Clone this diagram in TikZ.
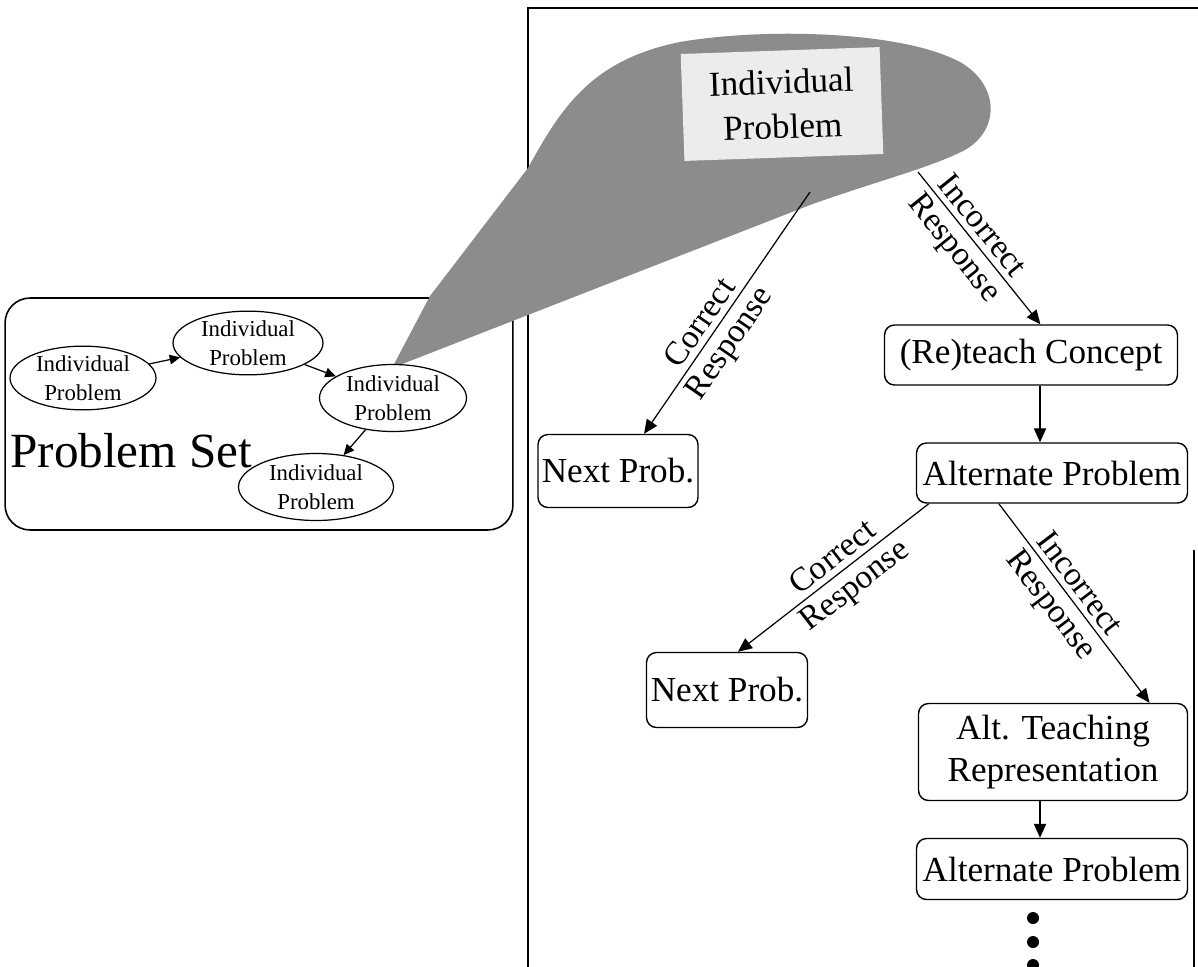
\documentclass[tikz,border=0pt]{standalone}
\usepackage{fontspec}
\setmainfont{Liberation Serif}
\usetikzlibrary{shapes.geometric, arrows.meta, positioning, calc}
\definecolor{conegray}{RGB}{140,140,140}
\definecolor{focusfill}{RGB}{236,236,236}

\begin{document}
\begin{tikzpicture}[
        x=0.02cm, y=-0.02cm,
        stepbox/.style={rectangle, rounded corners=0.2cm, draw=black, line width=0.8pt, inner xsep=1pt, inner ysep=2pt, align=center, font=\fontsize{20}{24}\selectfont},
        probell/.style={ellipse, draw=black, line width=0.7pt, fill=white, inner sep=0pt, align=center, font=\fontsize{13}{16.5}\selectfont},
        flow/.style={-{Triangle[length=8pt,width=7pt]}, line width=0.7pt},
        smallflow/.style={-{Triangle[length=6pt,width=5.5pt]}, line width=0.7pt},
        resp/.style={sloped, font=\fontsize{19}{22}\selectfont}
    ]

\useasboundingbox (0,0) rectangle (1198,967);

% Frame
\draw[line width=1.1pt] (1198,8) -- (528,8) -- (528,967);
\draw[line width=1.1pt] (1194,550) -- (1194,967);

% Problem set
\node[draw=black, line width=0.9pt, rounded corners=0.5cm, minimum width=10.16cm, minimum height=4.64cm] (probset) at (259,414) {};
\node[anchor=base west, inner sep=0pt, font=\fontsize{28}{32}\selectfont] (settitle) at (10,467) {Problem Set};

% Zoom cone
\fill[conegray] (392,368) -- (430,296) -- (528,168)
    .. controls (560,110) and (590,60) .. (680,42)
    .. controls (760,28) and (900,30) .. (960,62)
    .. controls (1000,85) and (1000,130) .. (965,150)
    .. controls (930,168) and (880,180) .. (810,205) -- cycle;
\node[fill=focusfill, rotate=2, minimum width=3.98cm, minimum height=2.14cm, align=center, font=\fontsize{20}{25.6}\selectfont] (focus) at (782,104) {Individual\\Problem};

% Individual problems
\node[probell, minimum width=2.92cm, minimum height=1.2cm] (p1) at (83,378) {Individual\\Problem};
\node[probell, minimum width=3.0cm, minimum height=1.14cm] (p2) at (248,343) {Individual\\Problem};
\node[probell, minimum width=2.94cm, minimum height=1.34cm] (p3) at (393,398) {Individual\\Problem};
\node[probell, minimum width=3.1cm, minimum height=1.34cm] (p4) at (316,487) {Individual\\Problem};

\draw[smallflow] (p1) -- (p2);
\draw[smallflow] (p2) -- (p3);
\draw[smallflow] (p3) -- (p4);

% Steps
\node[stepbox, minimum width=5.86cm, minimum height=1.2cm] (reteach) at (1031,355) {(Re)teach Concept};
\node[stepbox, minimum width=5.42cm, minimum height=1.2cm] (apA) at (1052,473) {Alternate Problem};
\node[stepbox, minimum width=3.2cm, minimum height=1.46cm] (next1) at (618,471) {Next Prob.};
\node[stepbox, minimum width=3.22cm, minimum height=1.5cm] (next2) at (727,690) {Next Prob.};
\node[stepbox, minimum width=5.38cm, minimum height=1.94cm] (alt) at (1053,752) {Alt. Teaching\\Representation};
\node[stepbox, minimum width=5.42cm, minimum height=1.22cm] (apB) at (1052,869) {Alternate Problem};

% Responses
\coordinate (cA) at (810,192);
\coordinate (cB) at (918,172);
\coordinate (colx) at (1040,0);

\draw[flow] (cA) -- node[resp, pos=0.58, above] {Correct} node[resp, pos=0.58, below] {Response} (next1.55);
\draw[flow] (cB) -- node[resp, pos=0.42, above] {Incorrect} node[resp, pos=0.42, below] {Response} (reteach.73);
\draw[flow] (reteach.south -| colx) -- (apA.north -| colx);
\draw[flow] (apA.194) -- node[resp, pos=0.45, above] {Correct} node[resp, pos=0.45, below] {Response} (next2.74);
\draw[flow] (apA.210) -- node[resp, pos=0.45, above] {Incorrect} node[resp, pos=0.45, below] {Response} (alt.27);
\draw[flow] (alt.south -| colx) -- (apB.north -| colx);

% More to come
\foreach \dy in {918,942,965}
    \fill (1033,\dy) circle (0.12cm);

\end{tikzpicture}
\end{document}
